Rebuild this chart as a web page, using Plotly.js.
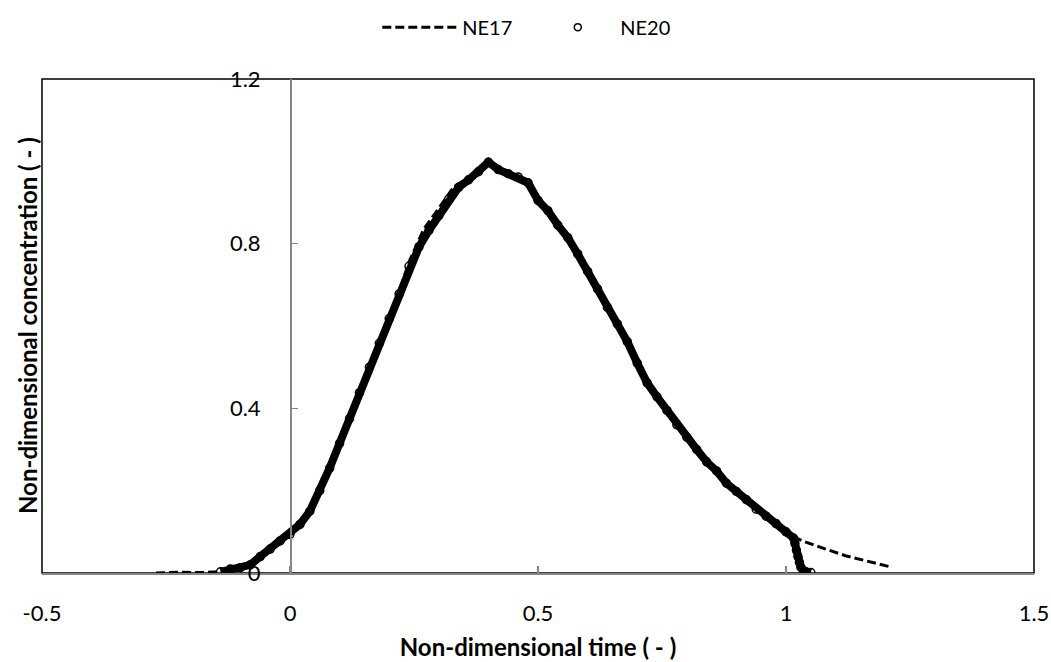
<!DOCTYPE html>
<html>
<head>
<meta charset="utf-8">
<script src="https://cdn.plot.ly/plotly-3.0.1.min.js"></script>
<style>html,body{margin:0;padding:0;background:#fff;}#chart{width:1051px;height:662px;}</style>
</head>
<body>
<div id="chart"></div>
<script>
// NE17 (dashed line)
const ne17X = [-0.27,-0.22,-0.18,-0.15,-0.12,-0.09,-0.06,-0.03,0.0,0.03,0.06,0.09,0.12,0.15,0.18,0.21,0.24,0.27,0.30,0.33,0.36,0.38,0.40,0.42,0.45,0.48,0.50,0.53,0.56,0.60,0.64,0.68,0.72,0.76,0.80,0.84,0.88,0.92,0.96,1.00,1.02,1.04,1.08,1.12,1.16,1.21];
const ne17Y = [0.0,0.002,0.001,0.003,0.010,0.016,0.040,0.066,0.094,0.135,0.200,0.285,0.375,0.468,0.558,0.648,0.756,0.836,0.886,0.938,0.960,0.978,0.998,0.980,0.965,0.948,0.905,0.862,0.815,0.733,0.645,0.562,0.462,0.395,0.330,0.270,0.218,0.178,0.138,0.100,0.085,0.075,0.058,0.042,0.030,0.015];
// NE20 (circles)
const ne20X = [-0.14,-0.12,-0.10,-0.08,-0.06,-0.04,-0.02,0.0,0.02,0.04,0.06,0.08,0.10,0.12,0.14,0.16,0.18,0.20,0.22,0.24,0.26,0.28,0.30,0.32,0.34,0.36,0.38,0.40,0.42,0.44,0.46,0.48,0.50,0.52,0.54,0.56,0.58,0.60,0.62,0.64,0.66,0.68,0.70,0.72,0.74,0.76,0.78,0.80,0.82,0.84,0.86,0.88,0.90,0.92,0.94,0.96,0.98,1.00,1.015,1.018,1.021,1.024,1.027,1.03,1.035,1.04,1.05];
const ne20Y = [0.003,0.010,0.013,0.020,0.040,0.058,0.078,0.094,0.118,0.150,0.200,0.255,0.315,0.375,0.438,0.500,0.558,0.618,0.678,0.745,0.792,0.832,0.868,0.908,0.937,0.955,0.975,0.998,0.980,0.970,0.962,0.948,0.905,0.880,0.845,0.815,0.775,0.733,0.690,0.645,0.605,0.562,0.510,0.462,0.428,0.395,0.360,0.330,0.300,0.270,0.248,0.218,0.198,0.178,0.155,0.138,0.120,0.100,0.085,0.072,0.055,0.040,0.026,0.014,0.006,0.003,0.001];
const xTicks = [-0.5,0,0.5,1,1.5];
const xTickText = ['-0.5','0','0.5','1','1.5'];
const yTicks = [0,0.4,0.8,1.2];
const yTickText = ['0','0.4','0.8','1.2'];

const FONT = 'Lato, "Liberation Sans", sans-serif';
const traces = [
  {x: ne17X, y: ne17Y, name: 'NE17', type: 'scatter', mode: 'lines',
   line: {color: '#000', width: 3, dash: '9px,4px'}},
  {x: ne20X, y: ne20Y, name: 'NE20', type: 'scatter', mode: 'lines+markers', showlegend: false,
   line: {color: '#000', width: 8},
   marker: {symbol: 'circle-open', size: 8, color: '#000', line: {width: 1.5, color: '#000'}}},
  {x: [null], y: [null], name: 'NE20', type: 'scatter', mode: 'markers',
   marker: {symbol: 'circle-open', size: 7, color: '#000', line: {width: 1.5, color: '#000'}}}
];
const layout = {
  width: 1051, height: 662,
  margin: {l: 42, r: 17, t: 79, b: 89, autoexpand: false},
  paper_bgcolor: '#fff', plot_bgcolor: '#fff',
  font: {family: FONT, size: 22, color: '#000'},
  showlegend: true,
  legend: {orientation: 'h', x: 0.338, xanchor: 'left', y: 1.105, yanchor: 'middle',
           font: {family: FONT, size: 20}, itemwidth: 75, entrywidth: 68, tracegroupgap: 0},
  xaxis: {range: [-0.5, 1.5], tickmode: 'array', tickvals: xTicks, ticktext: xTickText,
          ticks: 'inside', ticklen: 7, tickcolor: '#868686', tickwidth: 1.5,
          showline: true, linecolor: '#868686', linewidth: 1.5, showgrid: false, zeroline: false,
          ticklabelstandoff: 20, tickfont: {family: FONT, size: 22},
          title: {text: '<b>Non-dimensional time ( - )</b>', font: {family: FONT, size: 24}, standoff: 14}},
  yaxis: {range: [0, 1.2], tickmode: 'array', tickvals: yTicks, ticktext: yTickText,
          anchor: 'free', position: 0.25,
          ticks: 'inside', ticklen: 6, tickcolor: '#868686', tickwidth: 1.5,
          showline: true, linecolor: '#868686', linewidth: 1.5, showgrid: false, zeroline: false,
          ticklabelstandoff: 25, tickfont: {family: FONT, size: 22}},
  shapes: [{type: 'rect', xref: 'paper', yref: 'paper', x0: 0, x1: 1, y0: 0, y1: 1,
            line: {color: '#000', width: 1.5}, layer: 'below'}],
  annotations: [{text: '<b>Non-dimensional concentration ( - )</b>', xref: 'paper', yref: 'paper',
                 x: 0, y: 0.5, xanchor: 'center', yanchor: 'middle', textangle: -90,
                 showarrow: false, font: {family: FONT, size: 24}, xshift: -15}]
};
Plotly.newPlot('chart', traces, layout, {displayModeBar: false, staticPlot: true});
</script>
</body>
</html>
